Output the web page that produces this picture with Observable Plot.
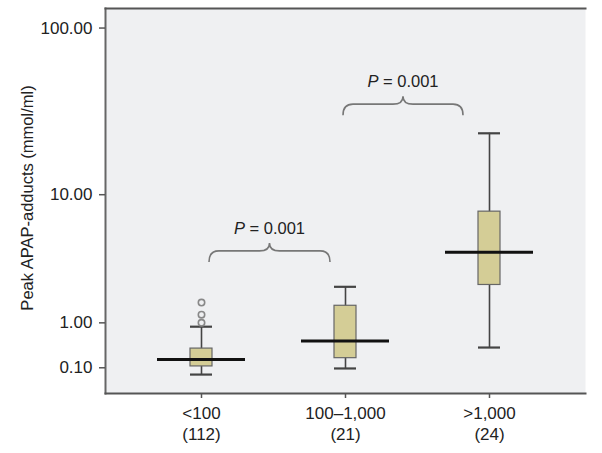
<!DOCTYPE html>
<html>
<head>
<meta charset="utf-8">
<script src="https://cdn.jsdelivr.net/npm/d3@7"></script>
<script src="https://cdn.jsdelivr.net/npm/@observablehq/plot@0.6"></script>
<style>
  html, body { margin: 0; padding: 0; background: #ffffff; }
  #chart svg { display: block; }
</style>
</head>
<body>
<div id="chart"></div>
<script>
// ---- data ----
const categories = ["<100", "100–1,000", ">1,000"];
const groupSizes = [112, 21, 24];
const whiskerLow  = [0.005, 0.09, 0.44];
const q1          = [0.12, 0.25, 2.31];
const medians     = [0.23, 0.57, 4.11];
const q3          = [0.42, 1.51, 7.78];
const whiskerHigh = [0.90, 2.23, 23.9];
const outlierGroup  = ["<100", "<100", "<100"];
const outlierValues = [1.0, 1.23, 1.62];
const yTicks = [0.1, 1, 10, 100];
const yDomain = [-0.28, 130];
const bracketFrom = ["<100", "100–1,000"];
const bracketTo   = ["100–1,000", ">1,000"];
const bracketY    = [3.47, 30.5];
const bracketP    = ["0.001", "0.001"];

const boxes = categories.map((c, i) => ({
  cat: c, lo: whiskerLow[i], q1: q1[i], med: medians[i], q3: q3[i], hi: whiskerHigh[i]
}));
const outliers = outlierGroup.map((c, i) => ({cat: c, v: outlierValues[i]}));
const sizeOf = Object.fromEntries(categories.map((c, i) => [c, groupSizes[i]]));

const chart = Plot.plot({
  width: 602,
  height: 453,
  marginTop: 8,
  marginBottom: 60,
  marginLeft: 105,
  marginRight: 17,
  style: {fontFamily: "'Liberation Sans', Arial, Helvetica, sans-serif", fontSize: "17px", color: "#222", background: "#ffffff"},
  x: {type: "band", domain: categories, paddingInner: 0.847, paddingOuter: 0.59, label: null},
  y: {type: "symlog", constant: 1, domain: yDomain, label: null},
  marks: [
    Plot.frame({fill: "#eff0f2", stroke: "none"}),
    Plot.frame({anchor: "left", stroke: "#666", strokeWidth: 2}),
    Plot.frame({anchor: "top", stroke: "#555", strokeWidth: 2}),
    Plot.frame({anchor: "bottom", stroke: "#555", strokeWidth: 2}),
    Plot.axisY({ticks: yTicks, tickFormat: d => d.toFixed(2), tickSize: 6, tickPadding: 7, stroke: "#555", strokeWidth: 1.5, fontSize: 17, label: null}),
    Plot.axisX({tickSize: 5, tickPadding: 5, stroke: "#555", strokeWidth: 1.5, fontSize: 17, lineHeight: 1.25,
      tickFormat: d => `${d}\n(${sizeOf[d]})`, label: null}),
    Plot.text(["Peak APAP-adducts (mmol/ml)"], {frameAnchor: "left", textAnchor: "middle", dx: -78, dy: -3, rotate: -90, fontSize: 16.5, fill: "#222"}),
    Plot.ruleX(boxes, {x: "cat", y1: "lo", y2: "hi", stroke: "#444", strokeWidth: 1.6}),
    Plot.tickY(boxes, {x: "cat", y: "lo", stroke: "#444", strokeWidth: 2.2}),
    Plot.tickY(boxes, {x: "cat", y: "hi", stroke: "#444", strokeWidth: 2.2}),
    Plot.barY(boxes, {x: "cat", y1: "q1", y2: "q3", fill: "#d4cd96", stroke: "#666", strokeWidth: 1.2}),
    Plot.tickY(boxes, {x: "cat", y: "med", stroke: "#111", strokeWidth: 3, insetLeft: -33, insetRight: -33}),
    Plot.dot(outliers, {x: "cat", y: "v", r: 3.2, stroke: "#888", strokeWidth: 1.6, fill: "none"})
  ]
});

document.getElementById("chart").appendChild(chart);

// ---- braces with P values, positioned through the plot's own scales ----
const xs = chart.scale("x");
const ys = chart.scale("y");
const bw = xs.bandwidth;
const braceInset = [[-3, 26], [-13, 37]]; // layout only (px)
const svg = d3.select(chart);
const g = svg.append("g");
bracketFrom.forEach((f, i) => {
  const x1 = xs.apply(f) + bw / 2 + braceInset[i][0] + 11;
  const x2 = xs.apply(bracketTo[i]) + bw / 2 - braceInset[i][1] + 11;
  const yEnd = ys.apply(bracketY[i]);
  const yMid = yEnd - 11;
  const yTip = yEnd - 19;
  const xm = (x1 + x2) / 2;
  const r = 10;
  const p = `M${x1},${yEnd} Q${x1},${yMid} ${x1 + r},${yMid} L${xm - r},${yMid} Q${xm},${yMid} ${xm},${yTip} Q${xm},${yMid} ${xm + r},${yMid} L${x2 - r},${yMid} Q${x2},${yMid} ${x2},${yEnd}`;
  g.append("path").attr("d", p).attr("fill", "none").attr("stroke", "#777").attr("stroke-width", 1.6);
  const t = g.append("text").attr("x", xm).attr("y", yTip - 9).attr("text-anchor", "middle")
    .attr("font-size", 16.5).attr("fill", "#222");
  t.append("tspan").attr("font-style", "italic").text("P");
  t.append("tspan").text(` = ${bracketP[i]}`);
});
</script>
</body>
</html>
